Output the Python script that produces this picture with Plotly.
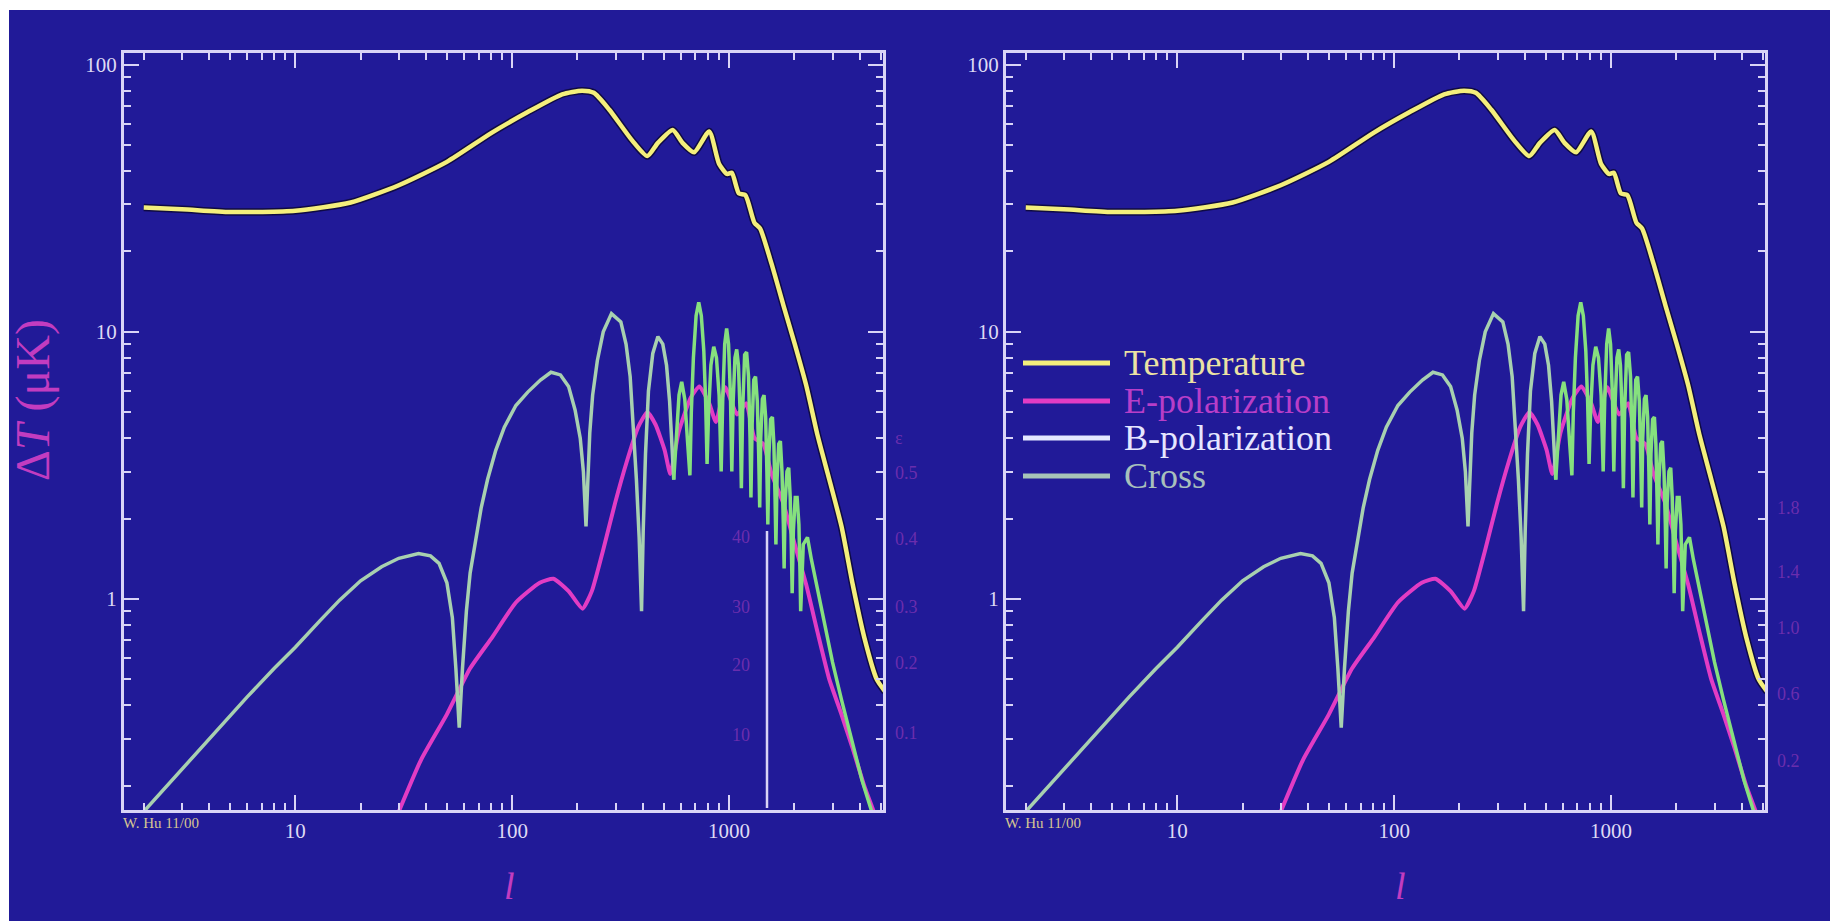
import plotly.graph_objects as go

# ---- spectra (multipole ell, amplitude in microkelvin) ----
ell_T = [2, 3, 5, 10, 18, 30, 50, 80, 118, 170, 210, 238, 280, 358, 420, 470, 550,
         610, 690, 810, 900, 980, 1030, 1110, 1190, 1310, 1390, 1570, 1780, 2010,
         2270, 2560, 2900, 3300, 3720, 4200, 4800, 5250]
dT_T = [29.2, 28.8, 28.1, 28.4, 30.5, 35.4, 43.3, 55.5, 66.5, 77.5, 80.0, 78.5, 68.0,
        52.0, 45.5, 51.0, 57.0, 51.0, 47.0, 56.3, 42.5, 39.0, 39.4, 33.0, 32.5, 25.6,
        24.4, 18.0, 12.6, 9.0, 6.3, 4.1, 2.8, 1.87, 1.13, 0.72, 0.50, 0.45]

ell_E = [30, 38, 50, 64, 81, 104, 134, 155, 182, 211, 233, 263, 298, 337, 381, 420,
         458, 505, 536, 585, 665, 730, 810, 870, 960, 1090, 1200, 1310, 1440, 1570,
         1780, 2010, 2270, 2560, 2900, 3300, 3720, 4200, 4650]
dT_E = [0.16, 0.25, 0.37, 0.55, 0.72, 0.97, 1.15, 1.19, 1.07, 0.92, 1.07, 1.53, 2.28,
        3.25, 4.4, 5.0, 4.5, 3.6, 2.94, 4.2, 5.66, 6.25, 5.4, 4.6, 6.2, 4.9, 5.4, 4.0,
        3.8, 2.94, 2.28, 1.6, 1.13, 0.75, 0.50, 0.37, 0.275, 0.2, 0.16]

ell_X = [2, 3, 4, 6, 8, 10, 13, 16, 20, 25, 30, 37, 42, 46, 50, 53, 55, 57,
         59, 61.5, 64, 67.5, 72, 77, 84, 92, 104, 118, 135, 151, 167, 182, 195, 206, 213, 219,
         223, 228, 235, 247, 263, 287, 317, 335, 350, 362, 374, 385, 395,
         402, 412, 425, 445, 470, 495, 515, 532, 545, 556,
         570, 588, 605, 625, 645, 660,
         670, 685, 705, 725, 745, 765, 780, 792,
         805, 825, 850, 875, 900, 920,
         935, 955, 975, 995, 1015, 1030,
         1045, 1065, 1085, 1105, 1125, 1140,
         1155, 1180, 1205, 1230, 1250, 1262,
         1278, 1300, 1325, 1350, 1370, 1385,
         1400, 1425, 1450, 1475, 1495, 1510,
         1528, 1555, 1585, 1610, 1630, 1645,
         1665, 1695, 1725, 1755, 1780, 1795,
         1815, 1850, 1885, 1915, 1940, 1955,
         1980, 2020, 2060, 2100, 2125, 2140,
         2200, 2300, 2400, 2550, 2750, 3000, 3300, 3700, 4100, 4550]
dT_X = [0.16, 0.23, 0.30, 0.43, 0.55, 0.66, 0.83, 0.99, 1.17, 1.32, 1.42, 1.48, 1.45,
        1.36, 1.15, 0.85, 0.55, 0.33,
        0.55, 0.9, 1.25, 1.6, 2.2, 2.8, 3.6, 4.4, 5.3, 5.95, 6.6, 7.06, 6.9, 6.25, 5.1,
        4.0, 3.0, 1.87,
        2.9, 4.2, 5.8, 7.8, 10.0, 11.7, 10.9, 9.0, 6.8, 4.5, 2.8, 1.7, 0.9,
        1.8, 3.5, 6.0, 8.3, 9.6, 9.0, 7.5, 5.5, 3.8, 2.8,
        4.0, 5.8, 6.5, 5.6, 3.8, 2.9,
        5.0, 8.0, 11.5, 12.9, 11.5, 8.5, 5.5, 3.2,
        5.0, 7.5, 8.8, 8.0, 5.8, 3.0,
        5.5, 9.0, 10.3, 9.0, 5.8, 3.0,
        5.5, 8.0, 8.6, 7.5, 5.0, 2.6,
        5.0, 8.2, 8.4, 6.8, 4.0, 2.4,
        4.5, 6.6, 6.8, 5.5, 3.5, 2.2,
        4.0, 5.6, 5.8, 4.8, 3.0, 1.9,
        3.5, 4.7, 4.8, 3.8, 2.4, 1.6,
        2.8, 3.8, 3.9, 3.0, 1.9, 1.3,
        2.3, 3.0, 3.1, 2.4, 1.5, 1.05,
        1.8, 2.4, 2.4, 1.9, 1.25, 0.9,
        1.6, 1.7, 1.4, 1.1, 0.8, 0.58, 0.42, 0.29, 0.21, 0.16]

x_ticks = [10, 100, 1000]
x_tick_text = ["10", "100", "1000"]
y_ticks = [1, 10, 100]
y_tick_text = ["1", "10", "100"]

legend_names = ["Temperature", "E-polarization", "B-polarization", "Cross"]

# ---- style ----
BG = "#211a98"
FRAME = "#d9d4f6"
YELLOW = "#f4ef7c"
MAGENTA = "#e23cc4"
GREEN_LOW = "#a8d0b0"    # cross spectrum, large-scale arches
GREEN_HIGH = "#86e07e"   # cross spectrum, dense small-scale oscillations
WHITE_B = "#e4e8ff"
LABEL_PINK = "#c23cc0"
SERIF = "Liberation Serif, Times New Roman, serif"

x_minor = [m * 10 ** k for k in range(0, 4) for m in range(2, 10)]
y_minor = [m * 10 ** k for k in range(-1, 2) for m in range(2, 10)]

# the cross spectrum is drawn in two tones, switching at the ell=556 zero crossing
split = ell_X.index(556)

fig = go.Figure()

for xa, ya in (("x", "y"), ("x2", "y2")):
    fig.add_trace(go.Scatter(x=ell_E, y=dT_E, mode="lines", xaxis=xa, yaxis=ya,
                             line=dict(color=MAGENTA, width=4, shape="spline", smoothing=0.5),
                             showlegend=False))
    fig.add_trace(go.Scatter(x=ell_X[:split + 1], y=dT_X[:split + 1], mode="lines",
                             xaxis=xa, yaxis=ya,
                             line=dict(color=GREEN_LOW, width=3.5), showlegend=False))
    fig.add_trace(go.Scatter(x=ell_X[split:], y=dT_X[split:], mode="lines",
                             xaxis=xa, yaxis=ya,
                             line=dict(color=GREEN_HIGH, width=3.5), showlegend=False))
    fig.add_trace(go.Scatter(x=ell_T, y=dT_T, mode="lines", xaxis=xa, yaxis=ya,
                             line=dict(color="rgba(10,5,40,0.75)", width=7.5, shape="spline", smoothing=0.6),
                             showlegend=False, hoverinfo="skip"))
    fig.add_trace(go.Scatter(x=ell_T, y=dT_T, mode="lines", xaxis=xa, yaxis=ya,
                             line=dict(color=YELLOW, width=4.5, shape="spline", smoothing=0.6),
                             showlegend=False))

x_range = [0.21, 3.71]
y_range = [-0.79, 2.044]

def xaxis_style(domain, anchor):
    return dict(type="log", domain=domain, anchor=anchor, range=x_range,
                showline=True, linecolor=FRAME, linewidth=3, mirror="allticks",
                ticks="inside", ticklen=15, tickwidth=2, tickcolor=FRAME,
                tickvals=x_ticks, ticktext=x_tick_text, showgrid=False, zeroline=False,
                tickfont=dict(family=SERIF, size=21, color="#dedaf4"),
                minor=dict(tickvals=x_minor, ticks="inside", ticklen=7, tickwidth=2,
                           tickcolor=FRAME, showgrid=False))

def yaxis_style(domain, anchor):
    return dict(type="log", domain=domain, anchor=anchor, range=y_range,
                showline=True, linecolor=FRAME, linewidth=3, mirror="allticks",
                ticks="inside", ticklen=15, tickwidth=2, tickcolor=FRAME,
                tickvals=y_ticks, ticktext=y_tick_text, showgrid=False, zeroline=False,
                tickfont=dict(family=SERIF, size=21, color="#dedaf4"),
                minor=dict(tickvals=y_minor, ticks="inside", ticklen=7, tickwidth=2,
                           tickcolor=FRAME, showgrid=False))

W, H = 1830, 921
yd = [1 - 810 / H, 1 - 53 / H]
fig.update_layout(
    width=W, height=H, margin=dict(l=0, r=0, t=0, b=0),
    paper_bgcolor="white", plot_bgcolor=BG, showlegend=False,
    xaxis=xaxis_style([124 / W, 883 / W], "y"),
    yaxis=yaxis_style(yd, "x"),
    xaxis2=xaxis_style([1006 / W, 1765 / W], "y2"),
    yaxis2=yaxis_style(yd, "x2"),
)

shapes = [dict(type="rect", xref="paper", yref="paper", x0=9 / W, x1=1, y0=0, y1=1 - 10 / H,
               fillcolor=BG, line=dict(width=0), layer="below"),
          # secondary scale line inside the left panel
          dict(type="line", xref="paper", yref="paper", x0=767 / W, x1=767 / W,
               y0=1 - 808 / H, y1=1 - 531 / H, line=dict(color=FRAME, width=2.5))]

annotations = []
# axis titles
annotations.append(dict(text="Δ<i>T</i> (μK)", xref="paper", yref="paper", x=33 / W, y=1 - 400 / H,
                        textangle=-90, showarrow=False, xanchor="center", yanchor="middle",
                        font=dict(family=SERIF, size=48, color=LABEL_PINK)))
for xc in (510, 1400):
    annotations.append(dict(text="<i>l</i>", xref="paper", yref="paper", x=xc / W, y=1 - 886 / H,
                            showarrow=False, xanchor="center", yanchor="middle",
                            font=dict(family=SERIF, size=38, color=LABEL_PINK)))
# credit
for xc in (121, 1003):
    annotations.append(dict(text="W. Hu 11/00", xref="paper", yref="paper", x=xc / W, y=1 - 813 / H,
                            xanchor="left", yanchor="top", showarrow=False,
                            font=dict(family=SERIF, size=15, color="#d6c592")))

# faint secondary scale labels
ghost = "rgba(200,70,200,0.45)"
for txt, yy in (("40", 537), ("30", 607), ("20", 677), ("10", 747)):
    annotations.append(dict(text=txt, xref="paper", yref="paper", x=752 / W, y=1 - yy / H,
                            xanchor="right", showarrow=False,
                            font=dict(family=SERIF, size=18, color=ghost)))
for txt, yy in (("ε", 438), ("0.5", 473), ("0.4", 539), ("0.3", 607), ("0.2", 675), ("0.1", 745)):
    annotations.append(dict(text=txt, xref="paper", yref="paper", x=893 / W, y=1 - yy / H,
                            xanchor="left", showarrow=False,
                            font=dict(family=SERIF, size=18, color=ghost)))
for txt, yy in (("1.8", 508), ("1.4", 572), ("1.0", 640), ("0.6", 706), ("0.2", 773)):
    annotations.append(dict(text=txt, xref="paper", yref="paper", x=1775 / W, y=1 - yy / H,
                            xanchor="left", showarrow=False,
                            font=dict(family=SERIF, size=18, color=ghost)))

# legend drawn in the right panel
leg_colors = [YELLOW, MAGENTA, WHITE_B, "#a6c4b8"]
leg_text_colors = ["#ece2a4", "#b83ec8", "#e6e6ff", "#a8c0bc"]
leg_y = [363, 401, 438, 476]
for name, lc, tc, yy in zip(legend_names, leg_colors, leg_text_colors, leg_y):
    shapes.append(dict(type="line", xref="paper", yref="paper", x0=1023 / W, x1=1110 / W,
                       y0=1 - yy / H, y1=1 - yy / H, line=dict(color=lc, width=5)))
    annotations.append(dict(text=name, xref="paper", yref="paper", x=1122 / W, y=1 - yy / H,
                            xanchor="left", yanchor="middle", showarrow=False,
                            font=dict(family=SERIF, size=36, color=tc)))

fig.update_layout(shapes=shapes, annotations=annotations)
fig.write_html("out.html")
